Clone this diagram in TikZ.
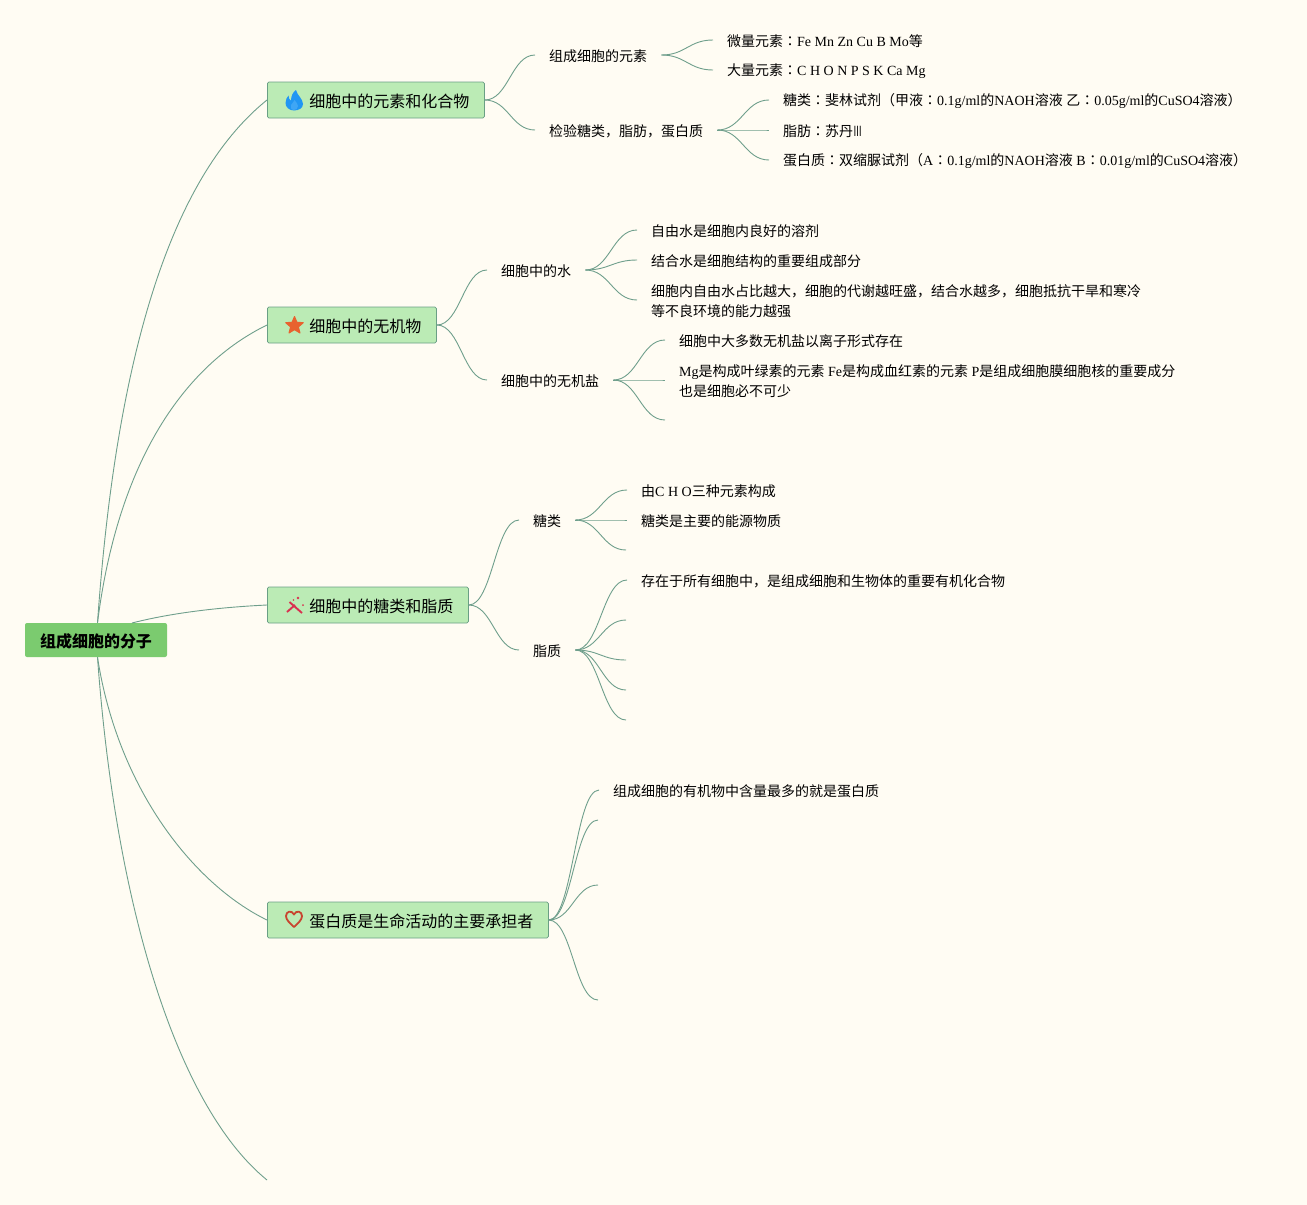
\documentclass[tikz,border=0pt]{standalone}
\usepackage{fontspec}
\usetikzlibrary{calc}
\setmainfont{Noto Sans CJK SC}
\newfontfamily\latinf{Liberation Serif}
\newfontfamily\tcf{Noto Sans CJK TC}
\newcommand\Lt[1]{{\latinf #1}}
\newcommand\spc{{\latinf\ }}
\newcommand\cl{{\tcf ：}}
\definecolor{bgc}{HTML}{FFFCF3}
\definecolor{linec}{HTML}{6F9F8C}
\definecolor{rootc}{HTML}{7BCB6F}
\definecolor{branchc}{HTML}{BBEBB5}
\definecolor{branchb}{HTML}{6A9F85}
\definecolor{flamec}{HTML}{2196F3}
\definecolor{flamel}{HTML}{3FA6F5}
\definecolor{starc}{HTML}{E8622F}
\definecolor{wandc}{HTML}{D9304F}
\definecolor{heartc}{HTML}{C8452F}
\tikzset{
  x=1pt,y=-1pt,
  conn/.style={draw=linec,line width=0.9pt},
  rootnode/.style={fill=rootc,rounded corners=2pt,inner xsep=15pt,inner ysep=0pt,minimum height=34pt,text height=15pt,text depth=1pt,font=\fontsize{16}{20}\selectfont\bfseries},
  branchnode/.style={anchor=west,draw=branchb,line width=0.8pt,fill=branchc,rounded corners=1.5pt,inner xsep=15pt,inner ysep=0pt,minimum height=36pt,text height=15pt,text depth=1pt,font=\fontsize{16}{20}\selectfont},
  subnode/.style={anchor=west,yshift=-0.4pt,inner xsep=14pt,inner ysep=2pt,font=\fontsize{14}{20}\selectfont},
  leafnode/.style={anchor=west,yshift=-0.4pt,inner xsep=14pt,inner ysep=2pt,align=left,font=\fontsize{14}{20}\selectfont},
}
% \lnk{shift of start}{shift of end}{start}{end}: an S curve with horizontal ends
\newcommand\lnk[4]{%
  \path ([yshift=#1]#3) coordinate (pa) ([yshift=#2]#4) coordinate (pb);
  \draw[conn] (pa) .. controls ($(pa)!0.47!(pb |- pa)$) and ($(pb)!0.47!(pa |- pb)$) .. (pb);}
\begin{document}
\begin{tikzpicture}
\useasboundingbox (0,0) rectangle (1307,1205);
\fill[bgc] (0,0) rectangle (1307,1205);
% root and branches
\node[rootnode] (root) at (96,640) {组成细胞的分子};
\coordinate (rootb) at (132,623);
\node[branchnode] (b1) at (267,100) {\hspace*{27pt}细胞中的元素和化合物};
\node[branchnode] (b2) at (267,325) {\hspace*{27pt}细胞中的无机物};
\node[branchnode] (b3) at (267,605) {\hspace*{27pt}细胞中的糖类和脂质};
\node[branchnode] (b4) at (267,920) {\hspace*{27pt}蛋白质是生命活动的主要承担者};
\coordinate (b5) at (267,1180);
\draw[conn] ([xshift=1.5pt]root.north) .. controls (118,330) and (180,170) .. (b1.west);
\draw[conn] ([xshift=1.5pt]root.north) .. controls (118,460) and (185,365) .. (b2.west);
\draw[conn] (rootb) .. controls (175,612) and (225,607) .. (b3.west);
\draw[conn] ([xshift=1.5pt]root.south) .. controls (118,790) and (195,885) .. (b4.west);
\draw[conn] ([xshift=1.5pt]root.south) .. controls (115,900) and (175,1105) .. (b5);
% b1
\node[subnode] (a1) at (535,56) {组成细胞的元素};
\node[subnode] (a2) at (535,131) {检验糖类，脂肪，蛋白质};
\node[leafnode] (a11) at (713,41) {微量元素\cl\Lt{Fe Mn Zn Cu B Mo}等};
\node[leafnode] (a12) at (713,71) {大量元素\cl\Lt{C H O N P S K Ca Mg}};
\node[leafnode] (a21) at (769,101) {糖类\cl 斐林试剂（甲液\cl\Lt{0.1g/ml}的\Lt{NAOH}溶液\spc 乙\cl\Lt{0.05g/ml}的\Lt{CuSO4}溶液）};
\node[leafnode] (a22) at (769,131) {脂肪\cl 苏丹\scalebox{0.65}[1]{Ⅲ}};
\node[leafnode] (a23) at (769,161) {蛋白质\cl 双缩脲试剂（\Lt{A}\cl\Lt{0.1g/ml}的\Lt{NAOH}溶液\spc\Lt{B}\cl\Lt{0.01g/ml}的\Lt{CuSO4}溶液）};
\foreach \t in {a1,a2}{\lnk{0pt}{1.4pt}{b1.east}{\t.west}}
\foreach \t in {a11,a12}{\lnk{1.4pt}{1.4pt}{a1.east}{\t.west}}
\foreach \t in {a21,a22,a23}{\lnk{1.4pt}{1.4pt}{a2.east}{\t.west}}
% b2
\node[subnode] (c1) at (487,271) {细胞中的水};
\node[subnode] (c2) at (487,381) {细胞中的无机盐};
\node[leafnode] (c11) at (637,231) {自由水是细胞内良好的溶剂};
\node[leafnode] (c12) at (637,261) {结合水是细胞结构的重要组成部分};
\node[leafnode] (c13) at (637,301) {细胞内自由水占比越大，细胞的代谢越旺盛，结合水越多，细胞抵抗干旱和寒冷\\等不良环境的能力越强};
\node[leafnode] (c21) at (665,341) {细胞中大多数无机盐以离子形式存在};
\node[leafnode] (c22) at (665,381) {\Lt{Mg}是构成叶绿素的元素\spc\Lt{Fe}是构成血红素的元素\spc\Lt{P}是组成细胞膜细胞核的重要成分\\也是细胞必不可少};
\coordinate (c23) at (665,420);
\foreach \t in {c1,c2}{\lnk{0pt}{1.4pt}{b2.east}{\t.west}}
\foreach \t in {c11,c12,c13}{\lnk{1.4pt}{1.4pt}{c1.east}{\t.west}}
\foreach \t in {c21,c22}{\lnk{1.4pt}{1.4pt}{c2.east}{\t.west}}
\lnk{1.4pt}{0pt}{c2.east}{c23}
% b3
\node[subnode] (d1) at (519,521) {糖类};
\node[subnode] (d2) at (519,651) {脂质};
\node[leafnode] (d11) at (627,491) {由\Lt{C H O}三种元素构成};
\node[leafnode] (d12) at (627,521) {糖类是主要的能源物质};
\coordinate (d13) at (626,550);
\node[leafnode] (d21) at (627,581) {存在于所有细胞中，是组成细胞和生物体的重要有机化合物};
\coordinate (d22) at (626,620);
\coordinate (d23) at (626,660);
\coordinate (d24) at (626,690);
\coordinate (d25) at (626,720);
\foreach \t in {d1,d2}{\lnk{0pt}{1.4pt}{b3.east}{\t.west}}
\foreach \t in {d11,d12}{\lnk{1.4pt}{1.4pt}{d1.east}{\t.west}}
\lnk{1.4pt}{0pt}{d1.east}{d13}
\lnk{1.4pt}{1.4pt}{d2.east}{d21.west}
\foreach \t in {d22,d23,d24,d25}{\lnk{1.4pt}{0pt}{d2.east}{\t}}
% b4
\node[leafnode] (e1) at (599,791) {组成细胞的有机物中含量最多的就是蛋白质};
\coordinate (e2) at (598,820);
\coordinate (e3) at (598,885);
\coordinate (e4) at (598,1000);
\lnk{0pt}{1.4pt}{b4.east}{e1.west}
\foreach \t in {e2,e3,e4}{\lnk{0pt}{0pt}{b4.east}{\t}}
% icons
\fill[flamec] (296,90) .. controls (297,95) and (303,99) .. (303,104) .. controls (303,108) and (299,110.5) .. (294,110.5) .. controls (289,110.5) and (285.5,107) .. (285.5,103) .. controls (285.5,100) and (287,97) .. (288.5,95.5) .. controls (288.5,98) and (289.5,100) .. (291,100.5) .. controls (291,96) and (293,92) .. (296,90) -- cycle;
\fill[flamel] (294,110) .. controls (291,110) and (290,107) .. (291,105) .. controls (292,103) and (294,102) .. (294.5,100) .. controls (296,102) and (298,104) .. (298,106) .. controls (298,108.5) and (296,110) .. (294,110) -- cycle;
\fill[starc,draw=starc,line width=1pt,line join=round] (294.5,316.5) -- (296.9,322.2) -- (303.3,322.7) -- (298.4,326.9) -- (300,333) -- (294.5,329.7) -- (289,333) -- (290.6,326.9) -- (285.7,322.7) -- (292.1,322.2) -- cycle;
\draw[wandc,line width=1.9pt] (289.5,602) -- (302,613);
\draw[wandc,line width=1.9pt] (287,612) -- (295,605);
\fill[wandc] (298,598) circle (1.3) (303,605) circle (1) (293.5,600) circle (0.9);
\draw[heartc,line width=1.8pt,line join=round] (294,927) .. controls (290,923) and (286,920) .. (286,916) .. controls (286,911) and (292,910) .. (294,914.5) .. controls (296,910) and (302,911) .. (302,916) .. controls (302,920) and (298,923) .. (294,927) -- cycle;
\end{tikzpicture}
\end{document}
